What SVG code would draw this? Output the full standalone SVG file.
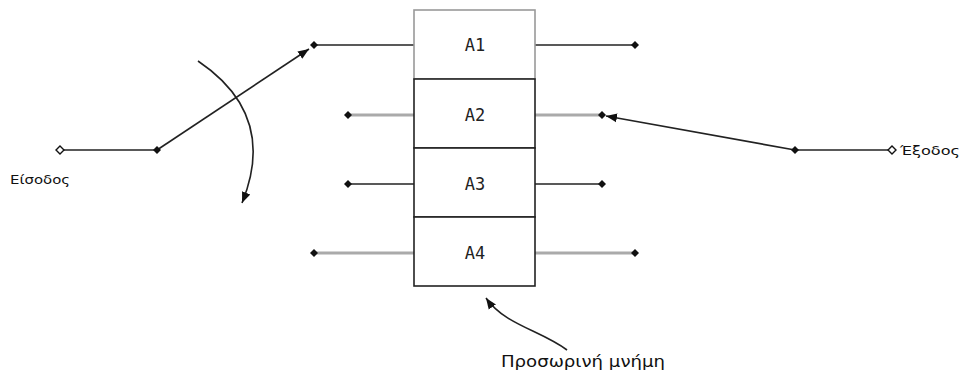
<svg xmlns="http://www.w3.org/2000/svg" width="961" height="374" viewBox="0 0 961 374">
<style>
.dk{stroke:#222;stroke-width:1.6;fill:none}
.gr{stroke:#aaa;stroke-width:3;fill:none}
.box{fill:#fff;stroke:#222;stroke-width:1.6}
.lbl{font-family:"DejaVu Sans Mono",monospace;font-size:17px;fill:#222;text-anchor:middle}
.t{font-family:"DejaVu Sans","Liberation Sans",sans-serif;font-size:13px;fill:#111}
</style>
<defs>
<symbol id="d" viewBox="-5 -5 10 10" overflow="visible"><polygon points="0,-4 4,0 0,4 -4,0" fill="#111"/></symbol>
<marker id="ah" viewBox="0 0 10 10" refX="10" refY="5" markerWidth="11" markerHeight="11" markerUnits="userSpaceOnUse" orient="auto"><path d="M0,1 L10,5 L0,9 Z" fill="#111"/></marker>
</defs>
<g id="connectors">
<line class="dk" x1="60" y1="150" x2="157" y2="150"/>
<line class="dk" x1="157" y1="150" x2="309" y2="49" marker-end="url(#ah)"/>
<path class="dk" d="M198,61 Q278,115 242,203" marker-end="url(#ah)"/>
<line class="dk" x1="314" y1="45" x2="414" y2="45"/>
<line class="dk" x1="535" y1="45" x2="635" y2="45"/>
<line class="gr" x1="348" y1="115" x2="414" y2="115"/>
<line class="gr" x1="535" y1="115" x2="602" y2="115"/>
<line class="dk" x1="348" y1="184" x2="414" y2="184"/>
<line class="dk" x1="535" y1="184" x2="602" y2="184"/>
<line class="gr" x1="314" y1="253" x2="414" y2="253"/>
<line class="gr" x1="535" y1="253" x2="635" y2="253"/>
<line class="dk" x1="795" y1="150" x2="606" y2="116" marker-end="url(#ah)"/>
<line class="dk" x1="795" y1="150" x2="889" y2="150"/>
<path class="dk" d="M567,350 C540,330 505,325 486,298" marker-end="url(#ah)"/>
</g>
<g id="dots">
<polygon points="60,146 64,150 60,154 56,150" fill="#fff" stroke="#111" stroke-width="1.4"/>
<polygon points="892,146 896,150 892,154 888,150" fill="#fff" stroke="#111" stroke-width="1.4"/>
<use href="#d" x="152" y="145" width="10" height="10"/>
<use href="#d" x="309" y="40" width="10" height="10"/>
<use href="#d" x="630" y="40" width="10" height="10"/>
<use href="#d" x="343" y="110" width="10" height="10"/>
<use href="#d" x="597" y="110" width="10" height="10"/>
<use href="#d" x="343" y="179" width="10" height="10"/>
<use href="#d" x="597" y="179" width="10" height="10"/>
<use href="#d" x="309" y="248" width="10" height="10"/>
<use href="#d" x="630" y="248" width="10" height="10"/>
<use href="#d" x="790" y="145" width="10" height="10"/>
</g>
<g id="A1"><rect x="414" y="10" width="121" height="69" fill="#fff" stroke="#999" stroke-width="1.6"/><text class="lbl" x="475" y="51">A1</text></g>
<g id="A2"><rect class="box" x="414" y="79" width="121" height="69"/><text class="lbl" x="475" y="121">A2</text></g>
<g id="A3"><rect class="box" x="414" y="148" width="121" height="69"/><text class="lbl" x="475" y="190">A3</text></g>
<g id="A4"><rect class="box" x="414" y="217" width="121" height="69"/><text class="lbl" x="475" y="259">A4</text></g>
<text class="t" x="10" y="184" textLength="60" lengthAdjust="spacingAndGlyphs">Είσοδος</text>
<text class="t" x="900" y="155" textLength="60" lengthAdjust="spacingAndGlyphs">Έξοδος</text>
<text class="t" x="501" y="367" style="font-size:16px" textLength="164" lengthAdjust="spacingAndGlyphs">Προσωρινή μνήμη</text>
</svg>
